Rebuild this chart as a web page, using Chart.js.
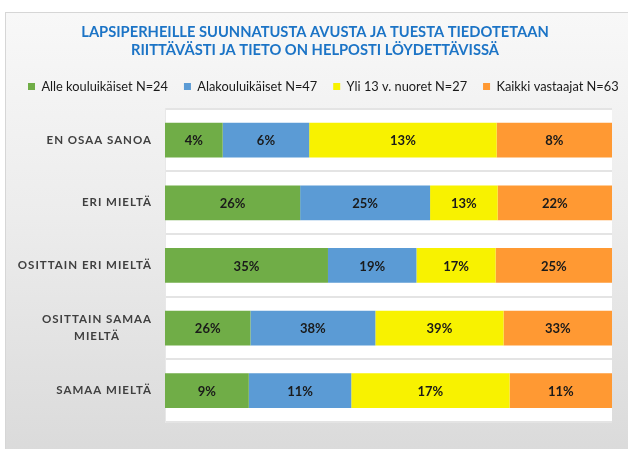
<!DOCTYPE html>
<html>
<head>
<meta charset="utf-8">
<script src="https://cdn.jsdelivr.net/npm/chart.js@4/dist/chart.umd.min.js"></script>
<style>
  html, body { margin: 0; padding: 0; background: #ffffff; }
  #wrap { position: relative; width: 628px; height: 449px; overflow: hidden; }
  #frame { position: absolute; left: 5px; top: 12px; width: 640px; height: 460px;
           border: 1px solid #d6d6d6; box-sizing: border-box;
           background: linear-gradient(to bottom, #f8f8f8 0%, #ececec 45%, #d9d9d9 100%); }
  #c { position: absolute; left: 0; top: 0; }
</style>
</head>
<body>
<div id="wrap">
  <div id="frame"></div>
  <canvas id="c" width="628" height="449"></canvas>
</div>
<script>
const titleLines = ['LAPSIPERHEILLE SUUNNATUSTA AVUSTA JA TUESTA TIEDOTETAAN', 'RIITTÄVÄSTI JA TIETO ON HELPOSTI LÖYDETTÄVISSÄ'];
const categories = ['EN OSAA SANOA', 'ERI MIELTÄ', 'OSITTAIN ERI MIELTÄ', ['OSITTAIN SAMAA', 'MIELTÄ'], 'SAMAA MIELTÄ'];
const seriesNames = ['Alle kouluikäiset N=24', 'Alakouluikäiset N=47', 'Yli 13 v. nuoret N=27', 'Kaikki vastaajat N=63'];
const alleKouluikaiset = [4, 26, 35, 26, 9];
const alakouluikaiset = [6, 25, 19, 38, 11];
const yli13Nuoret = [13, 13, 17, 39, 17];
const kaikkiVastaajat = [8, 22, 25, 33, 11];
const seriesColors = ['#70AD47', '#5B9BD5', '#F8F200', '#FF9933'];

const rawSeries = [alleKouluikaiset, alakouluikaiset, yli13Nuoret, kaikkiVastaajat];
const rowTotals = categories.map((_, i) => rawSeries.reduce((s, arr) => s + arr[i], 0));

const datasets = rawSeries.map((arr, k) => ({
  label: seriesNames[k],
  raw: arr,
  data: arr.map((v, i) => v / rowTotals[i] * 100),
  backgroundColor: seriesColors[k],
  borderWidth: 0,
  categoryPercentage: 1,
  barPercentage: 0.555
}));

const bgPlugin = {
  id: 'plotBg',
  beforeDraw(chart) {
    const a = chart.chartArea, ctx = chart.ctx;
    ctx.save();
    ctx.fillStyle = '#ffffff';
    ctx.fillRect(a.left, a.top, a.right - a.left, a.bottom - a.top);
    ctx.restore();
  }
};

const legendTweak = {
  id: 'legendTweak',
  beforeInit(chart) {
    const orig = chart.legend.fit;
    chart.legend.fit = function () { orig.bind(this)(); this.height += 6; };
  },
  afterLayout(chart) {
    const lg = chart.legend;
    const pad = lg.options.labels.padding;
    const firstX = (lg.left + pad + lg.right - lg.lineWidths[0]) / 2;
    const shift = 28 - firstX;
    lg.left += shift;
    lg.right += shift;
  }
};

const textPlugin = {
  id: 'texts',
  afterDraw(chart) {
    const ctx = chart.ctx;
    ctx.save();
    ctx.fillStyle = '#1C74C6';
    ctx.font = 'bold 14.7px Lato';
    ctx.textAlign = 'center';
    ctx.textBaseline = 'middle';
    titleLines.forEach((t, i) => ctx.fillText(t, 315, 32 + i * 18));
    ctx.restore();

    const y = chart.scales.y;
    ctx.save();
    ctx.fillStyle = '#404040';
    ctx.font = 'bold 11.5px Lato';
    ctx.letterSpacing = '1px';
    ctx.textBaseline = 'middle';
    ctx.textAlign = 'center';
    categories.forEach((lab, i) => {
      const lines = Array.isArray(lab) ? lab : [lab];
      const w = Math.max(...lines.map(l => ctx.measureText(l).width));
      const cx = 152 - w / 2;
      const cy = y.getPixelForValue(i);
      const lh = 17;
      lines.forEach((l, j) => {
        ctx.fillText(l, cx, cy + (j - (lines.length - 1) / 2) * lh);
      });
    });
    ctx.restore();
  },
  afterDatasetsDraw(chart) {
    const ctx = chart.ctx;
    ctx.save();
    ctx.fillStyle = '#1a1a1a';
    ctx.font = 'bold 13px Lato';
    ctx.textAlign = 'center';
    ctx.textBaseline = 'middle';
    chart.data.datasets.forEach((ds, k) => {
      const meta = chart.getDatasetMeta(k);
      meta.data.forEach((bar, i) => {
        ctx.fillText(ds.raw[i] + '%', (bar.x + bar.base) / 2, bar.y + 1);
      });
    });
    ctx.restore();
  }
};

new Chart(document.getElementById('c'), {
  type: 'bar',
  data: { labels: categories, datasets },
  options: {
    indexAxis: 'y',
    responsive: false,
    animation: false,
    events: [],
    layout: { padding: { top: 64, left: 0, right: 0, bottom: 27 } },
    scales: {
      x: { display: false, stacked: true, min: 0, max: 100 },
      y: {
        stacked: true,
        offset: true,
        ticks: { display: false },
        grid: { offset: true, color: '#e4e4e4', lineWidth: 2, drawTicks: false },
        border: { display: true, color: '#e8e8e8', width: 1 },
        afterFit(s) { s.width = 165; }
      },
      yRight: {
        type: 'category',
        position: 'right',
        ticks: { display: false },
        grid: { display: false, drawTicks: false },
        border: { display: false },
        afterFit(s) { s.width = 16; }
      }
    },
    plugins: {
      title: { display: false },
      tooltip: { enabled: false },
      legend: {
        position: 'top',
        labels: {
          font: { family: 'Lato', size: 12.8 },
          color: '#1a1a1a',
          boxWidth: 7,
          boxHeight: 7,
          padding: 16
        }
      }
    }
  },
  plugins: [bgPlugin, legendTweak, textPlugin]
});
</script>
</body>
</html>
